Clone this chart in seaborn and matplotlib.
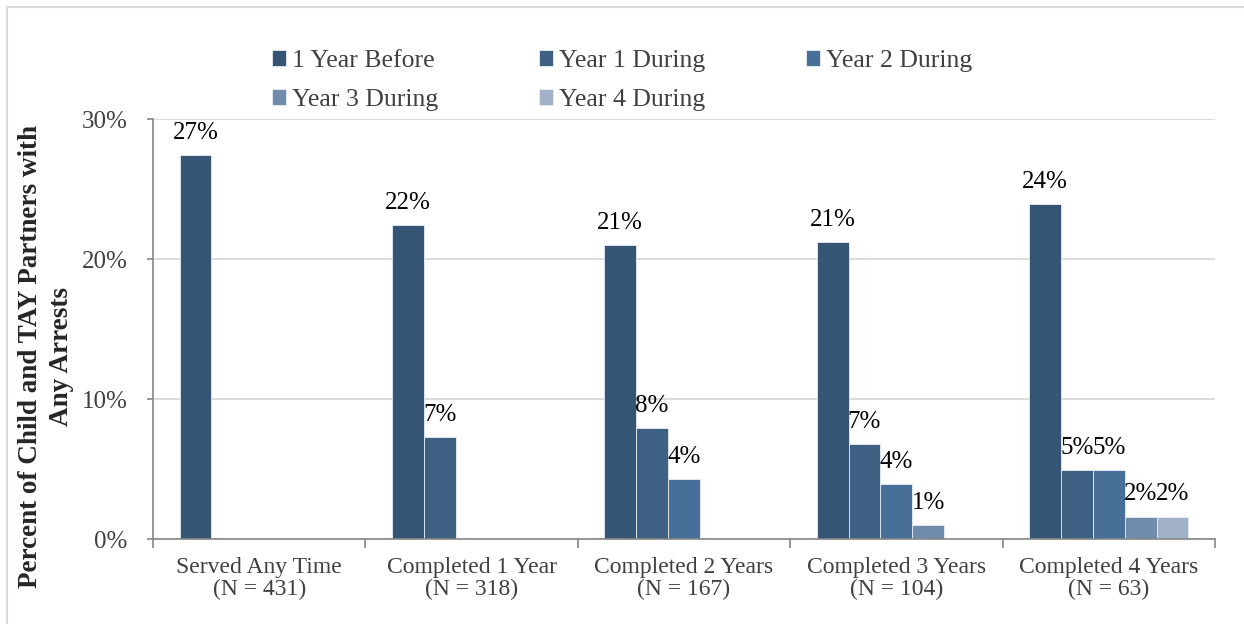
import matplotlib
matplotlib.use("Agg")
import matplotlib.pyplot as plt
import matplotlib.ticker as mticker
from matplotlib.patches import Rectangle
import pandas as pd
import seaborn as sns

groups = ["Served Any Time\n(N = 431)", "Completed 1 Year\n(N = 318)",
          "Completed 2 Years\n(N = 167)", "Completed 3 Years\n(N = 104)",
          "Completed 4 Years\n(N = 63)"]
series = ["1 Year Before", "Year 1 During", "Year 2 During", "Year 3 During", "Year 4 During"]
year_before = [27.4, 22.4, 21.0, 21.2, 23.9]
year1_during = [None, 7.3, 7.9, 6.8, 4.9]
year2_during = [None, None, 4.3, 3.9, 4.9]
year3_during = [None, None, None, 1.0, 1.6]
year4_during = [None, None, None, None, 1.6]
colors = ["#345573", "#3E6183", "#476F98", "#6F8CAD", "#A1B1C7"]

rows = []
for name, vals in zip(series, [year_before, year1_during, year2_during, year3_during, year4_during]):
    for g, v in zip(groups, vals):
        if v is not None:
            rows.append({"group": g, "series": name, "pct": v})
df = pd.DataFrame(rows)

sns.set_style("white")
plt.rcParams["font.family"] = ["Liberation Serif", "DejaVu Serif"]

fig = plt.figure(figsize=(12.44, 6.24), dpi=100)
ax = fig.add_axes([153 / 1244, 1 - 539 / 624, (1215 - 153) / 1244, (539 - 119) / 624])

sns.barplot(data=df, x="group", y="pct", hue="series", order=groups, hue_order=series,
            palette=colors, saturation=1, width=0.75, edgecolor="#E8EDF3", linewidth=0.6, ax=ax)

for c in ax.containers:
    ax.bar_label(c, fmt=lambda v: f"{v:.0f}%", padding=8, fontsize=18, color="black")

ax.set_ylim(0, 30)
ax.set_xlim(-0.5, 4.5)
ax.set_yticks([0, 10, 20, 30])
ax.yaxis.set_major_formatter(mticker.FuncFormatter(lambda v, p: f"{v:.0f}%"))
ax.grid(axis="y", color="#D9D9D9", linewidth=1.3)
ax.set_axisbelow(True)

ax.set_xticks([-0.5, 0.5, 1.5, 2.5, 3.5, 4.5])
ax.set_xticklabels([])
ax.set_xticks(range(len(groups)), minor=True)
ax.set_xticklabels(groups, minor=True, fontsize=17, color="#404040", linespacing=1.05)
ax.tick_params(axis="x", which="major", direction="out", length=6.5, width=1.2, color="#868686", bottom=True)
ax.tick_params(axis="x", which="minor", length=0, pad=13)
ax.tick_params(axis="y", direction="out", length=4.5, width=1.2, color="#868686", left=True,
               labelsize=18, labelcolor="#404040", pad=14)
ax.set_xlabel("")
ax.set_ylabel("")

for side in ["top", "right"]:
    ax.spines[side].set_visible(False)
for side in ["left", "bottom"]:
    ax.spines[side].set_color("#868686")
    ax.spines[side].set_linewidth(1.2)

fig.text(46 / 1244, 1 - 357 / 624, "Percent of Child and TAY Partners with\nAny Arrests",
         rotation=90, ha="center", va="center", multialignment="center",
         fontsize=19.5, fontweight="bold", color="#262626", linespacing=1.3)

handles, labels = ax.get_legend_handles_labels()
ax.get_legend().remove()
order = [0, 3, 1, 4, 2]
fig.legend([handles[i] for i in order], [labels[i] for i in order],
           loc="upper center", bbox_to_anchor=(0.5, 0.957), ncol=3, frameon=False,
           fontsize=18.5, labelcolor="#404040", handlelength=0.55, handleheight=0.55,
           handletextpad=0.25, columnspacing=3.9, labelspacing=0.66)

fig.patches.append(Rectangle((7 / 1244, -0.1), 2, 1 - 7 / 624 + 0.1, transform=fig.transFigure,
                             fill=False, edgecolor="#D9D9D9", linewidth=1.5))

fig.savefig("out.png", dpi=100)
